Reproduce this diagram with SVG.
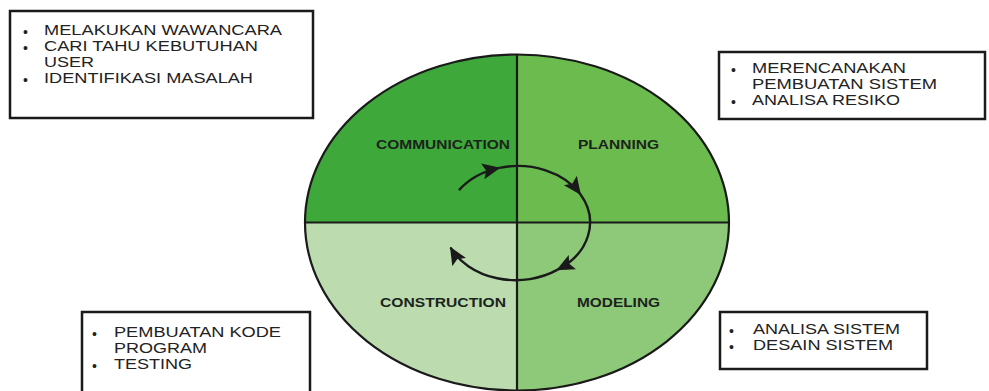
<svg xmlns="http://www.w3.org/2000/svg" width="989" height="391" viewBox="0 0 989 391">
  <style>
    .box { fill: #ffffff; stroke: #1a1a1a; stroke-width: 2.5; }
    .note { font-family: "Liberation Sans", Arial, sans-serif; font-size: 15px; fill: #222222; }
    .dot { font-family: "Liberation Sans", Arial, sans-serif; font-size: 14px; fill: #222222; }
    .label { font-family: "Liberation Sans", Arial, sans-serif; font-size: 13.5px; font-weight: bold; fill: #1c231c; }
    .edge { fill: none; stroke: #1a1a1a; stroke-width: 2.2; }
    .cycle { fill: none; stroke: #1a1a1a; stroke-width: 2.4; }
  </style>
  <defs>
    <marker id="head" markerUnits="userSpaceOnUse" markerWidth="20" markerHeight="18" refX="17" refY="8" orient="auto">
      <path d="M0,0 L18,8 L0,16 L3.5,8 Z" fill="#1a1a1a"/>
    </marker>
  </defs>

  <rect width="989" height="391" fill="#ffffff"/>

  <!-- quadrants of the cycle ellipse -->
  <g id="communication">
    <path d="M517,222.5 L305,222.5 A212,168 0 0 1 517,54.5 Z" fill="#3ea83a"/>
    <text class="label" x="376" y="149" textLength="134" lengthAdjust="spacingAndGlyphs">COMMUNICATION</text>
  </g>
  <g id="planning">
    <path d="M517,222.5 L517,54.5 A212,168 0 0 1 729,222.5 Z" fill="#6bbb4e"/>
    <text class="label" x="578" y="149" textLength="81" lengthAdjust="spacingAndGlyphs">PLANNING</text>
  </g>
  <g id="modeling">
    <path d="M517,222.5 L729,222.5 A212,168 0 0 1 517,390.5 Z" fill="#8ec879"/>
    <text class="label" x="577" y="307" textLength="83" lengthAdjust="spacingAndGlyphs">MODELING</text>
  </g>
  <g id="construction">
    <path d="M517,222.5 L517,390.5 A212,168 0 0 1 305,222.5 Z" fill="#bcdcb0"/>
    <text class="label" x="380" y="307" textLength="126" lengthAdjust="spacingAndGlyphs">CONSTRUCTION</text>
  </g>

  <!-- outline and dividing cross -->
  <g id="outline">
    <ellipse class="edge" cx="517" cy="222.5" rx="212" ry="168"/>
    <line class="edge" x1="517" y1="54.5" x2="517" y2="390.5"/>
    <line class="edge" x1="305" y1="222.5" x2="729" y2="222.5"/>
  </g>

  <!-- cycle arrows -->
  <g id="connectors">
    <path class="cycle" d="M459,190.1 A72,56.5 0 0 1 499.4,167.9" marker-end="url(#head)"/>
    <path class="cycle" d="M499.4,167.9 A72,56.5 0 0 1 580.4,194.3" marker-end="url(#head)"/>
    <path class="cycle" d="M580.4,194.3 A72,56.5 0 0 1 557.2,269.9" marker-end="url(#head)"/>
    <path class="cycle" d="M557.2,269.9 A72,56.5 0 0 1 450.5,247.5" marker-end="url(#head)"/>
  </g>

  <!-- note boxes -->
  <g id="note-communication">
    <rect class="box" x="10" y="11" width="303" height="107"/>
    <text class="dot" x="23" y="36.5">•</text>
    <text class="note" x="44" y="34.5" textLength="238" lengthAdjust="spacingAndGlyphs">MELAKUKAN WAWANCARA</text>
    <text class="dot" x="23" y="52.5">•</text>
    <text class="note" x="44" y="50.5" textLength="214" lengthAdjust="spacingAndGlyphs">CARI TAHU KEBUTUHAN</text>
    <text class="note" x="44" y="66.5" textLength="50" lengthAdjust="spacingAndGlyphs">USER</text>
    <text class="dot" x="23" y="84.5">•</text>
    <text class="note" x="44" y="82.5" textLength="209" lengthAdjust="spacingAndGlyphs">IDENTIFIKASI MASALAH</text>
  </g>
  <g id="note-planning">
    <rect class="box" x="719" y="52" width="266" height="67"/>
    <text class="dot" x="731" y="75">•</text>
    <text class="note" x="752" y="73" textLength="154" lengthAdjust="spacingAndGlyphs">MERENCANAKAN</text>
    <text class="note" x="752" y="89" textLength="185" lengthAdjust="spacingAndGlyphs">PEMBUATAN SISTEM</text>
    <text class="dot" x="731" y="107">•</text>
    <text class="note" x="752" y="105" textLength="148" lengthAdjust="spacingAndGlyphs">ANALISA RESIKO</text>
  </g>
  <g id="note-construction">
    <rect class="box" x="82" y="312" width="228" height="90"/>
    <text class="dot" x="92" y="339">•</text>
    <text class="note" x="114" y="337" textLength="167" lengthAdjust="spacingAndGlyphs">PEMBUATAN KODE</text>
    <text class="note" x="114" y="353" textLength="93" lengthAdjust="spacingAndGlyphs">PROGRAM</text>
    <text class="dot" x="92" y="371">•</text>
    <text class="note" x="114" y="369" textLength="78" lengthAdjust="spacingAndGlyphs">TESTING</text>
  </g>
  <g id="note-modeling">
    <rect class="box" x="720" y="312" width="207" height="57"/>
    <text class="dot" x="729" y="336">•</text>
    <text class="note" x="753" y="334" textLength="147" lengthAdjust="spacingAndGlyphs">ANALISA SISTEM</text>
    <text class="dot" x="729" y="352">•</text>
    <text class="note" x="753" y="350" textLength="140" lengthAdjust="spacingAndGlyphs">DESAIN SISTEM</text>
  </g>
</svg>
